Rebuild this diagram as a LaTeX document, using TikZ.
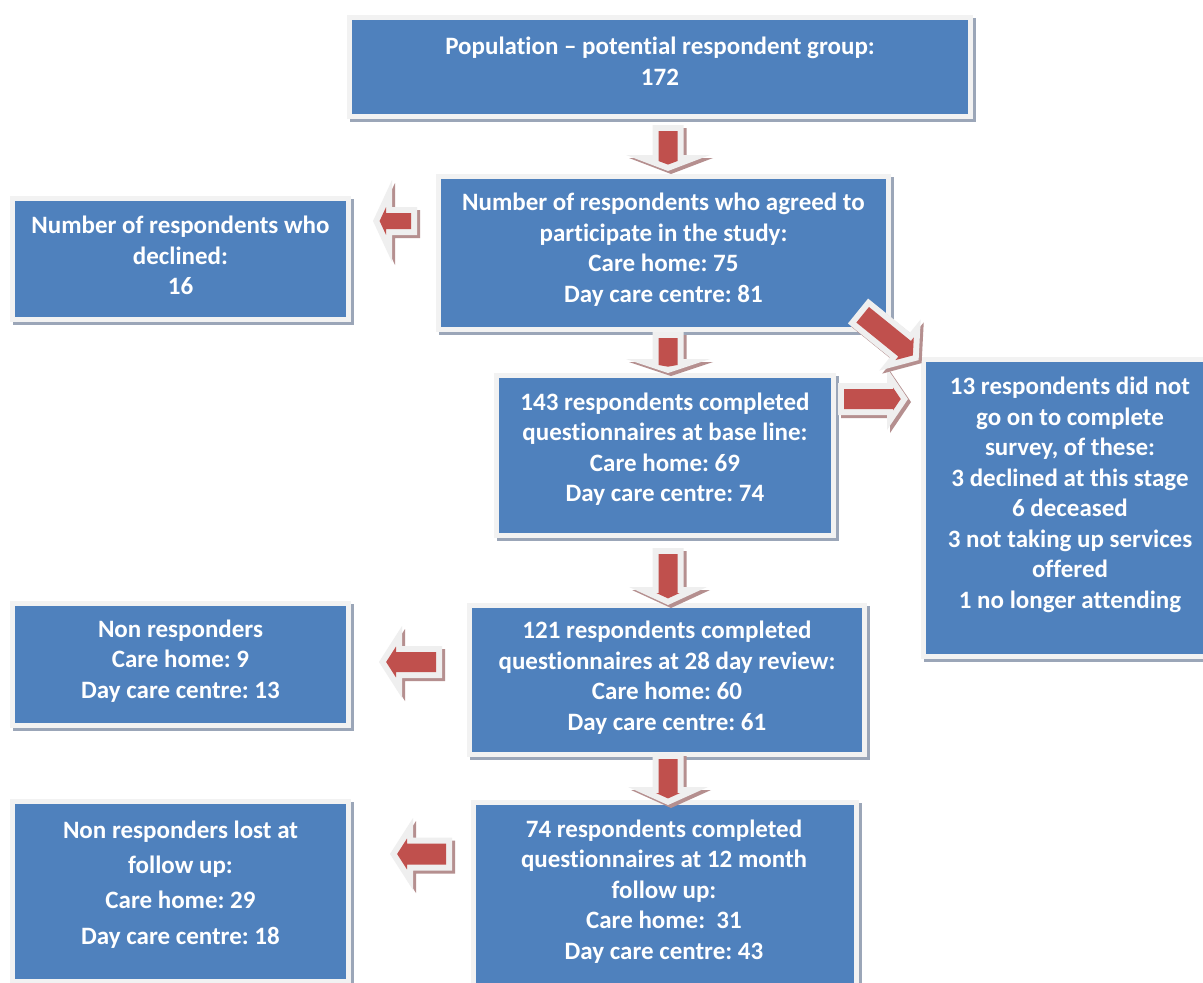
\documentclass[tikz,border=0pt]{standalone}
\usepackage{fontspec}
\setmainfont{Carlito}[Ligatures={NoCommon}]
\frenchspacing
\usetikzlibrary{calc}
\definecolor{boxblue}{HTML}{4F81BD}
\definecolor{boxrim}{HTML}{F2F2F2}
\definecolor{boxshade}{HTML}{9BA6B8}
\definecolor{arrred}{HTML}{C0504D}
\definecolor{arrrim}{HTML}{EFEFEF}
\definecolor{arrshade}{HTML}{B58F8F}
\pgfdeclarelayer{bg}
\pgfsetlayers{bg,main}
% #1 tail coordinate, #2 angle, #3 length, #4 shaft half width, #5 head half width, #6 head length
\newcommand\myblkarrow[6]{%
  \pgfmathsetmacro\arL{#3}%
  \pgfmathsetmacro\arA{#4}%
  \pgfmathsetmacro\arB{#5}%
  \pgfmathsetmacro\arH{#6}%
  \pgfmathsetmacro\arE{6}%
  \pgfmathsetmacro\arS{\arE*sqrt(\arH*\arH+\arB*\arB)/\arB}%
  \pgfmathsetmacro\arT{\arL-\arS}%
  \pgfmathsetmacro\arHB{\arL-\arH+\arE}%
  \pgfmathsetmacro\arC{\arA-\arE}%
  \pgfmathsetmacro\arCH{max(\arC,(\arT-\arHB)*\arB/\arH)}%
  \pgfmathsetmacro\arW{\arL-\arH}%
  \begin{scope}[shift={(#1)},xshift=3pt,yshift=-3pt,rotate=#2]
    \fill[arrshade] (0,-\arA) -- (\arW,-\arA) -- (\arW,-\arB) -- (\arL,0) -- (\arW,\arB) -- (\arW,\arA) -- (0,\arA) -- cycle;
  \end{scope}
  \begin{scope}[shift={(#1)},rotate=#2]
    \fill[arrrim] (0,-\arA) -- (\arW,-\arA) -- (\arW,-\arB) -- (\arL,0) -- (\arW,\arB) -- (\arW,\arA) -- (0,\arA) -- cycle;
    \fill[arrred] (\arE,-\arC) -- (\arHB,-\arC) -- (\arHB,-\arCH) -- (\arT,0) -- (\arHB,\arCH) -- (\arHB,\arC) -- (\arE,\arC) -- cycle;
  \end{scope}
}
\begin{document}
\begin{tikzpicture}[x=1pt,y=-1pt,
  bluebox/.style={anchor=north west, inner sep=0pt, outer sep=0pt, fill=boxblue},
  boxtext/.style={text=white, align=center, inner sep=0pt,
    font=\fontsize{25}{30.5}\selectfont\bfseries},
  widetext/.style={boxtext, font=\fontsize{25}{35.3}\selectfont\bfseries},
]
\useasboundingbox (0,0) rectangle (1203,983);

% boxes
\node[bluebox, minimum width=616pt, minimum height=94pt] (pop) at (352,20) {};
\node[bluebox, minimum width=445pt, minimum height=148pt] (agr) at (441,179) {};
\node[bluebox, minimum width=331pt, minimum height=116pt] (dec) at (15,201) {};
\node[bluebox, minimum width=332pt, minimum height=155pt] (b143) at (499,378) {};
\node[bluebox, minimum width=290pt, minimum height=292pt] (r13) at (926,362) {};
\node[bluebox, minimum width=331pt, minimum height=117pt] (nr) at (15,606) {};
\node[bluebox, minimum width=390pt, minimum height=144pt] (b121) at (472,608) {};
\node[bluebox, minimum width=331pt, minimum height=175pt] (lost) at (15,804) {};
\node[bluebox, minimum width=378pt, minimum height=190pt] (b74) at (476,805) {};

\begin{pgfonlayer}{bg}
  \fill[white] (0,0) rectangle (1203,983);
  \foreach \n in {pop,agr,dec,b143,r13,nr,b121,lost,b74}{
    \fill[boxshade] ($(\n.north west)+(-2,-2)$) rectangle ($(\n.south east)+(8,8)$);
    \fill[boxrim] ($(\n.north west)+(-5,-5)$) rectangle ($(\n.south east)+(5,5)$);
  }
\end{pgfonlayer}

% texts
\node[boxtext] (pop-t) at ($(pop.center)+(0,-6)$) {Population – potential respondent group:\\172};
\node[boxtext] (agr-t) at ($(agr.center)+(0,-3.5)$) {Number of respondents who agreed to\\participate in the study:\\Care home: 75\\Day care centre: 81};
\node[boxtext] (dec-t) at ($(dec.center)+(0,-3.5)$) {Number of respondents who\\declined:\\16};
\node[boxtext] (b143-t) at ($(b143.center)+(0,-6.5)$) {143 respondents completed\\questionnaires at base line:\\Care home: 69\\Day care centre: 74};
\node[boxtext] (r13-t) at ($(r13.center)+(-1,-13)$) {13 respondents did not\\go on to complete\\survey, of these:\\3 declined at this stage\\6 deceased\\3 not taking up services\\offered\\1 no longer attending};
\node[boxtext] (nr-t) at ($(nr.center)+(0,-3.5)$) {Non responders\\Care home: 9\\Day care centre: 13};
\node[boxtext] (b121-t) at ($(b121.center)+(0,-2.5)$) {121 respondents completed\\questionnaires at 28 day review:\\Care home: 60\\Day care centre: 61};
\node[widetext] (lost-t) at ($(lost.center)+(0,-7)$) {Non responders lost at\\follow up:\\Care home: 29\\Day care centre: 18};
\node[boxtext] (b74-t) at ($(b74.center)+(-1,-8.5)$) {74 respondents completed\\questionnaires at 12 month\\follow up:\\Care home:~ 31\\Day care centre: 43};

% arrow tails
\coordinate (a1) at ($(pop.south)+(8,11)$);
\coordinate (a2) at ($(agr.south)+(4.5,5)$);
\coordinate (a3) at ($(b143.south)+(3,15)$);
\coordinate (a4) at ($(b121.south)+(1,1)$);
\coordinate (l1) at ($(agr.west)+(-24,-32)$);
\coordinate (l2) at ($(b121.west)+(-30,-18)$);
\coordinate (l3) at ($(b74.west)+(-24,-46)$);
\coordinate (r1) at ($(b143.east)+(7,-56.5)$);
\coordinate (d1) at ($(agr.south east)+(-28,-16)$);

\myblkarrow{a1}{-90}{46}{15.5}{42}{16}
\myblkarrow{a2}{-90}{41}{15.5}{42}{14}
\myblkarrow{a3}{-90}{57}{15.5}{39}{18}
\myblkarrow{a4}{-90}{52}{15.5}{40}{18}
\myblkarrow{l1}{180}{44}{14}{41}{19}
\myblkarrow{l2}{180}{63}{16}{36}{23}
\myblkarrow{l3}{180}{62}{16.5}{36}{23}
\myblkarrow{r1}{0}{70}{16}{31}{21}
\myblkarrow{d1}{-39}{78}{16}{33}{24}
\end{tikzpicture}
\end{document}
